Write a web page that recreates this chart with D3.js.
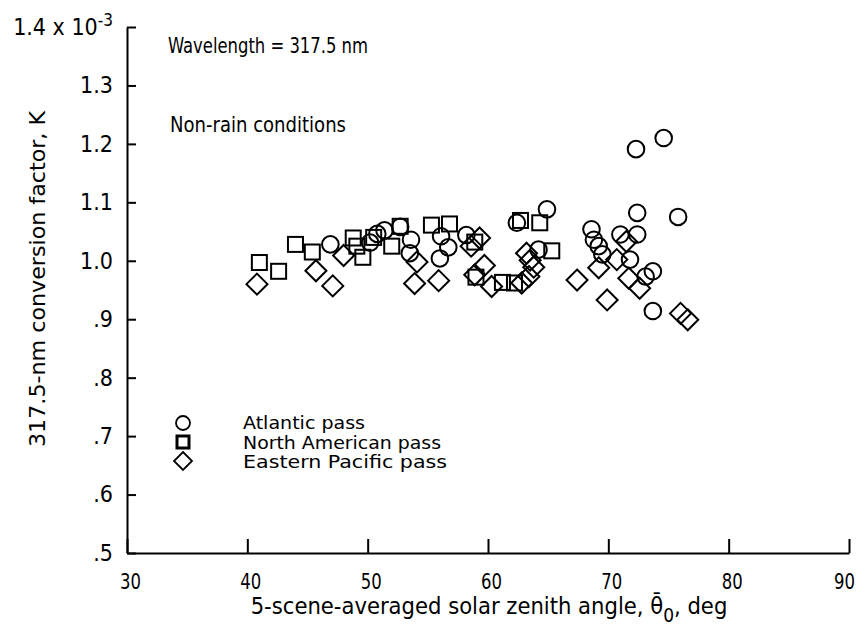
<!DOCTYPE html>
<html>
<head>
<meta charset="utf-8">
<title></title>
<style>
  body { margin: 0; background: #fff; }
  text { font-family: "Liberation Sans Narrow", "DejaVu Sans Condensed", "Roboto Condensed", sans-serif; fill: #000; }
</style>
</head>
<body>
<svg width="863" height="625"></svg>
<script src="https://d3js.org/d3.v7.min.js"></script>
<script>

// Atlantic pass (circles)
var atlanticX = [46.9, 50.2, 50.8, 51.4, 52.7, 53.6, 53.5, 56.1, 56.7, 56.0, 58.2, 62.4, 64.9, 64.2,
                 68.6, 68.8, 69.2, 69.5, 71.0, 72.4, 72.4, 71.8, 73.1, 73.7, 73.7, 75.8, 72.3, 74.6];
var atlanticK = [1.028, 1.031, 1.046, 1.052, 1.058, 1.036, 1.013, 1.042, 1.023, 1.004, 1.044, 1.065, 1.088, 1.019,
                 1.054, 1.036, 1.025, 1.011, 1.045, 1.045, 1.082, 1.002, 0.973, 0.982, 0.914, 1.075, 1.191, 1.210];

// North American pass (squares)
var northAmX = [41.0, 42.6, 44.0, 45.4, 48.8, 49.1, 49.6, 50.5, 52.0, 52.7, 55.3, 56.8, 58.9, 59.0,
                61.2, 62.2, 62.7, 64.3, 65.3];
var northAmK = [0.997, 0.982, 1.028, 1.015, 1.039, 1.025, 1.006, 1.040, 1.025, 1.059, 1.061, 1.063, 1.032, 0.972,
                0.963, 0.962, 1.069, 1.065, 1.017];

// Eastern Pacific pass (diamonds)
var pacificX = [40.8, 45.7, 47.1, 48.0, 53.9, 54.1, 55.9, 58.6, 59.3, 59.7, 58.9, 60.3, 63.2, 63.5,
                63.8, 63.4, 62.8, 67.4, 69.2, 69.9, 70.7, 71.5, 71.7, 72.6, 76.0, 76.6];
var pacificK = [0.960, 0.983, 0.957, 1.009, 0.961, 0.998, 0.966, 1.025, 1.039, 0.992, 0.976, 0.956, 1.013, 1.001,
                0.989, 0.973, 0.962, 0.967, 0.988, 0.933, 1.002, 1.033, 0.970, 0.953, 0.910, 0.899];

var xTicks = [30, 40, 50, 60, 70, 80, 90];
var yTicks = [1.4, 1.3, 1.2, 1.1, 1.0, 0.9, 0.8, 0.7, 0.6, 0.5];
var yTickLabels = ["1.4 x 10", "1.3", "1.2", "1.1", "1.0", ".9", ".8", ".7", ".6", ".5"];

var legendNames = ["Atlantic pass", "North American pass", "Eastern Pacific pass"];
var legendWidths = [122, 198, 204];

var svg = d3.select("svg");

var x = d3.scaleLinear().domain([30, 90]).range([127, 849]);
var y = d3.scaleLinear().domain([0.5, 1.4]).range([553, 27]);

// axes
var yAxis = svg.append("g")
    .attr("transform", "translate(" + x(30) + ",0)")
    .call(d3.axisLeft(y)
        .tickValues(yTicks)
        .tickSizeInner(-9)
        .tickSizeOuter(0)
        .tickPadding(14)
        .tickFormat(function(d, i) { return yTickLabels[i]; }));

var xAxis = svg.append("g")
    .attr("transform", "translate(0," + y(0.5) + ")")
    .call(d3.axisBottom(x)
        .tickValues(xTicks)
        .tickSizeInner(-14)
        .tickSizeOuter(0)
        .tickPadding(21)
        .tickFormat(d3.format("d")));

svg.selectAll(".domain, .tick line").attr("stroke", "#000").attr("stroke-width", 2);
svg.selectAll(".tick text").attr("font-size", 23).attr("fill", "#000")
    .style("font-family", "\"Liberation Sans Narrow\", \"DejaVu Sans Condensed\", sans-serif");
xAxis.selectAll(".tick text")
    .attr("font-size", 21)
    .attr("dy", "0.71em")
    .attr("x", function(d) { return d === 90 ? -5 : 3; })
    .attr("textLength", 21).attr("lengthAdjust", "spacingAndGlyphs");

// exponent on the top label
yAxis.selectAll(".tick text").filter(function(d) { return d === 1.4; })
    .append("tspan")
    .attr("dy", -9)
    .attr("font-size", 17)
    .text("-3");

// markers
var g = svg.append("g").attr("fill", "none").attr("stroke", "#000").attr("stroke-width", 2);

function circleMark(sel, cx, cy, r) {
    sel.append("circle").attr("cx", cx).attr("cy", cy).attr("r", r);
}
function squareMark(sel, cx, cy, s) {
    sel.append("rect").attr("x", cx - s / 2).attr("y", cy - s / 2).attr("width", s).attr("height", s);
}
function diamondMark(sel, cx, cy, h) {
    sel.append("path").attr("d", "M" + cx + "," + (cy - h) + "L" + (cx + h) + "," + cy +
        "L" + cx + "," + (cy + h) + "L" + (cx - h) + "," + cy + "Z");
}

northAmX.forEach(function(d, i) { squareMark(g, x(d), y(northAmK[i]), 15); });
pacificX.forEach(function(d, i) { diamondMark(g, x(d), y(pacificK[i]), 10.5); });
atlanticX.forEach(function(d, i) { circleMark(g, x(d), y(atlanticK[i]), 8.3); });

// legend
var lg = svg.append("g").attr("fill", "none").attr("stroke", "#000");
circleMark(lg.append("g").attr("stroke-width", 1.8), 183, 423, 7);
squareMark(lg.append("g").attr("stroke-width", 3), 183, 442, 12);
diamondMark(lg.append("g").attr("stroke-width", 1.8), 183, 461, 9);

svg.selectAll(".legend-text")
    .data(legendNames)
    .enter().append("text")
    .attr("x", 243)
    .attr("y", function(d, i) { return 429 + i * 19.5; })
    .attr("font-size", 18)
    .attr("textLength", function(d, i) { return legendWidths[i]; })
    .attr("lengthAdjust", "spacingAndGlyphs")
    .text(function(d) { return d; });

// annotations
svg.append("text").attr("x", 168).attr("y", 53).attr("font-size", 21)
    .attr("textLength", 200).attr("lengthAdjust", "spacingAndGlyphs")
    .text("Wavelength = 317.5 nm");
svg.append("text").attr("x", 170).attr("y", 132).attr("font-size", 21)
    .attr("textLength", 176).attr("lengthAdjust", "spacingAndGlyphs")
    .text("Non-rain conditions");

// axis titles
svg.append("text")
    .attr("transform", "translate(45,279) rotate(-90)")
    .attr("text-anchor", "middle")
    .attr("font-size", 21)
    .attr("textLength", 336).attr("lengthAdjust", "spacingAndGlyphs")
    .text("317.5-nm conversion factor, K");

var xt = svg.append("text")
    .attr("x", 489)
    .attr("y", 614)
    .attr("text-anchor", "middle")
    .attr("font-size", 23.5);
xt.append("tspan").text("5-scene-averaged solar zenith angle, \u03b8\u0304");
xt.append("tspan").attr("dy", 8).attr("font-size", 19).text("0");
xt.append("tspan").attr("dy", -8).text(", deg");

</script>
</body>
</html>
